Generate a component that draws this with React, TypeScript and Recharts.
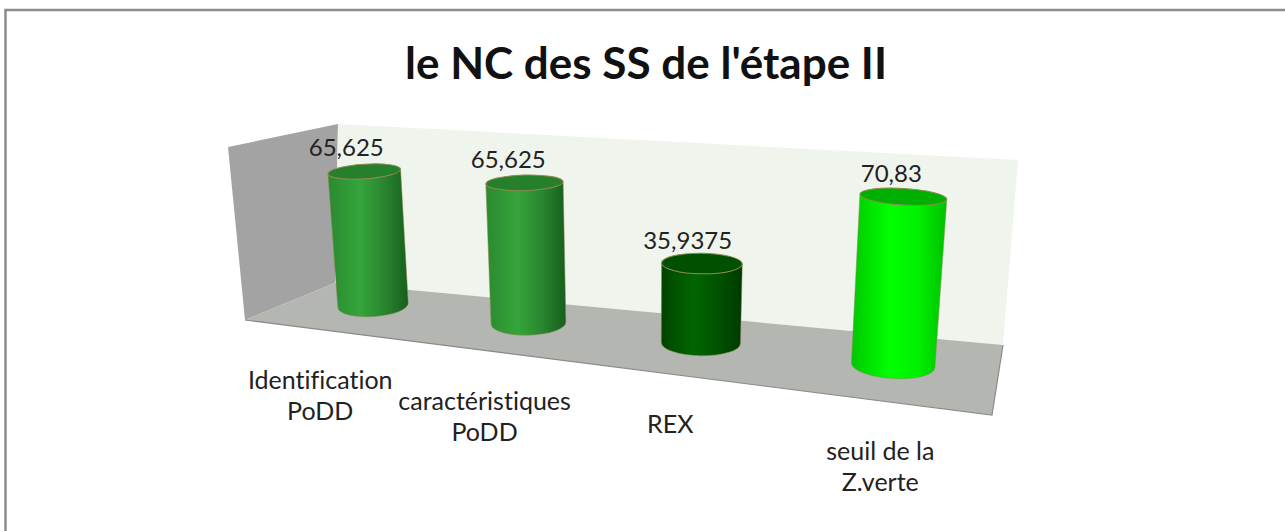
import React from 'react';
import { BarChart, Bar, XAxis, YAxis, LabelList, Customized } from 'recharts';

const W = 1285;
const H = 531;
const FONT = 'Lato, "Open Sans", sans-serif';

// ---- data
const categories = ['Identification\nPoDD', 'caractéristiques\nPoDD', 'REX', 'seuil de la\nZ.verte'];
const values = [65.625, 65.625, 35.9375, 70.83];
const valueLabels = ['65,625', '65,625', '35,9375', '70,83'];
const title = "le NC des SS de l'étape II";
const data = categories.map((name, i) => ({ name, value: values[i], label: valueLabels[i] }));

// ---- styles
const palette = [
  { edgeL: '#2a8a30', mid: '#35a53a', mid2: '#2a8530', edgeR: '#175f1c', top: '#267f2a' },
  { edgeL: '#2a8a30', mid: '#35a53a', mid2: '#2a8530', edgeR: '#175f1c', top: '#267f2a' },
  { edgeL: '#004400', mid: '#006600', mid2: '#005200', edgeR: '#003a00', top: '#005000' },
  { edgeL: '#00c800', mid: '#00ff00', mid2: '#00f000', edgeR: '#00c000', top: '#00b000' },
];

// ---- perspective: the plot rectangle is projected on a tilted plane
const quad = [
  [301, 297.3],
  [998, 377.6],
  [1015, 180.6],
  [287.7, 136.5],
];
const homography = (() => {
  const [[x0, y0], [x1, y1], [x2, y2], [x3, y3]] = quad;
  const dx1 = x1 - x2, dx2 = x3 - x2, sx = x0 - x1 + x2 - x3;
  const dy1 = y1 - y2, dy2 = y3 - y2, sy = y0 - y1 + y2 - y3;
  const den = dx1 * dy2 - dx2 * dy1;
  const g = (sx * dy2 - dx2 * sy) / den;
  const h = (dx1 * sy - sx * dy1) / den;
  return { a: x1 - x0 + g * x1, b: x3 - x0 + h * x3, c: x0, d: y1 - y0 + g * y1, e: y3 - y0 + h * y3, f: y0, g, h };
})();
const project = (px: number, py: number) => {
  const u = px / W;
  const v = 1 - py / H;
  const m = homography;
  const w = m.g * u + m.h * v + 1;
  return { x: (m.a * u + m.b * v + m.c) / w, y: (m.d * u + m.e * v + m.f) / w };
};
// the cylinders widen more slowly with depth than the plane does
const widthFactor = (sx: number) => 1.09 - (sx - 363) * 0.00029;

const Cylinder = (props: any) => {
  const { x, y, width, height, index } = props;
  const c = palette[index];
  const cx = x + width / 2;
  const base = project(cx, y + height);
  const top = project(cx, y);
  const hw0 = ((project(x + width, y + height).x - project(x, y + height).x) / 2) * widthFactor(base.x);
  const hw1 = ((project(x + width, y).x - project(x, y).x) / 2) * widthFactor(top.x);
  const dx = top.x - base.x;
  const dy = base.y - top.y;
  const len = Math.hypot(dx, dy);
  const ax = dy / len;
  const ay = dx / len;
  const deg = (Math.atan2(ay, ax) * 180) / Math.PI;
  const v = 1 - y / H;
  const ry0 = hw0 * 0.32;
  const ry1 = hw1 * (0.32 - 0.144 * v);
  const id = `cyl-${index}`;
  const bl = { x: base.x - hw0 * ax, y: base.y - hw0 * ay };
  const br = { x: base.x + hw0 * ax, y: base.y + hw0 * ay };
  const tl = { x: top.x - hw1 * ax, y: top.y - hw1 * ay };
  const tr = { x: top.x + hw1 * ax, y: top.y + hw1 * ay };
  const body = `M${bl.x},${bl.y} L${tl.x},${tl.y} L${tr.x},${tr.y} L${br.x},${br.y} A${hw0},${ry0} ${deg} 0 1 ${bl.x},${bl.y} Z`;
  return (
    <g>
      <defs>
        <linearGradient id={id} gradientUnits="userSpaceOnUse" x1={Math.min(bl.x, tl.x)} y1={0} x2={Math.max(br.x, tr.x)} y2={0}>
          <stop offset="0%" stopColor={c.edgeL} />
          <stop offset="40%" stopColor={c.mid} />
          <stop offset="70%" stopColor={c.mid2} />
          <stop offset="100%" stopColor={c.edgeR} />
        </linearGradient>
      </defs>
      <path d={body} fill={`url(#${id})`} stroke="#8f8a50" strokeWidth={0.5} />
      <ellipse
        cx={top.x}
        cy={top.y}
        rx={hw1}
        ry={ry1}
        transform={`rotate(${deg} ${top.x} ${top.y})`}
        fill={c.top}
        stroke="#8f8a50"
        strokeWidth={1}
      />
    </g>
  );
};

const ValueLabel = (props: any) => {
  const { x, y, width, index } = props;
  const top = project(x + width / 2, y);
  const lx = top.x - 18 + (top.x - 363) * 0.011;
  const ly = top.y - 24.5;
  return (
    <text x={lx} y={ly} textAnchor="middle" dominantBaseline="central" fontFamily={FONT} fontSize={24} fill="#222">
      {valueLabels[index]}
    </text>
  );
};

const CategoryTick = (props: any) => {
  const { x, payload } = props;
  const base = project(x, H);
  const lx = base.x - 53 + (base.x - 372) * 0.0768 - (base.x > 500 && base.x < 800 ? 3 : 0);
  const ly = 380 + (lx - 319) * 0.1266;
  const lines = String(payload.value).split('\n');
  return (
    <text textAnchor="middle" fontFamily={FONT} fontSize={25} fill="#222" style={{ fontVariantLigatures: 'none' }}>
      {lines.map((l, i) => (
        <tspan key={i} x={lx} y={ly + i * 31.5} dy="0.35em">
          {l}
        </tspan>
      ))}
    </text>
  );
};

const Walls = () => (
  <g>
    <rect x={5.5} y={10} width={1300} height={540} fill="#fff" stroke="#8c8c8c" strokeWidth={2.5} />
    <text x={646} y={62} textAnchor="middle" dominantBaseline="central" fontFamily={FONT} fontSize={44} fontWeight={700} fill="#111">
      {title}
    </text>
    <polygon points="228,147 338,124 335,283 245,320" fill="#a3a3a3" />
    <polygon points="338,124 1018,160 1003,345 335,283" fill="#eff4ec" />
    <polygon points="245,320 335,283 1003,345 992,415" fill="#b4b6b2" />
    <polyline points="245,320 992,415 1003,345" fill="none" stroke="#8a8a8a" strokeWidth={1.2} />
  </g>
);

export default function App() {
  return (
    <div style={{ position: 'absolute', left: 0, top: 0, width: W, height: H, overflow: 'hidden', background: '#fff' }}>
      <BarChart width={W} height={H} data={data} margin={{ top: 0, right: 0, bottom: 0, left: 0 }} barCategoryGap="28%">
        <Customized component={Walls} />
        <XAxis dataKey="name" height={1} axisLine={false} tickLine={false} interval={0} tick={<CategoryTick />} />
        <YAxis hide domain={[0, 80]} width={0} />
        <Bar dataKey="value" isAnimationActive={false} shape={<Cylinder />}>
          <LabelList dataKey="value" content={<ValueLabel />} />
        </Bar>
      </BarChart>
    </div>
  );
}
